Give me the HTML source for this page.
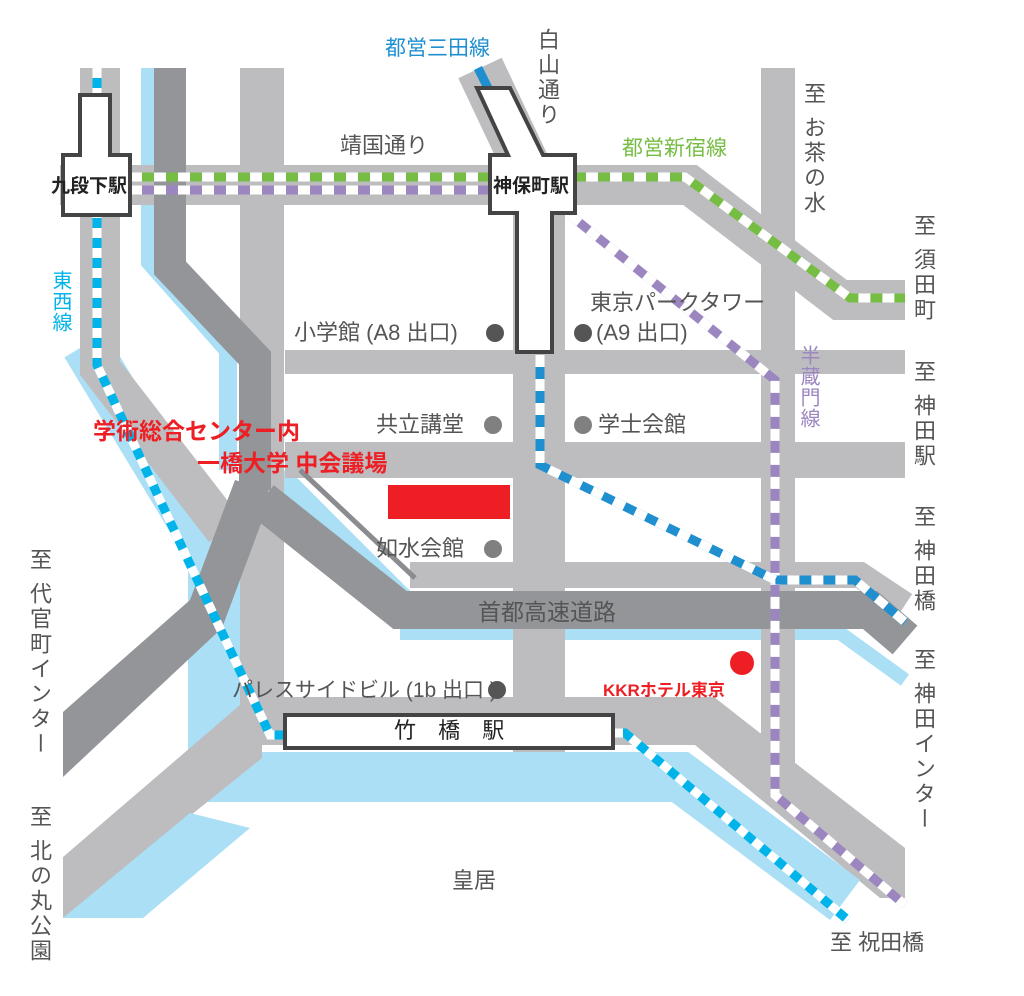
<!DOCTYPE html>
<html><head><meta charset="utf-8"><style>
body{margin:0;background:#fff;}
#w{position:relative;width:1024px;height:996px;overflow:hidden;font-family:"Liberation Sans","Noto Sans CJK JP",sans-serif;}
.t{position:absolute;color:#555;font-size:22px;line-height:1;white-space:nowrap;}
.v{writing-mode:vertical-rl;letter-spacing:3px;}
</style></head><body><div id="w">
<svg width="1024" height="996" style="position:absolute;left:0;top:0">
<g fill="none" stroke-linejoin="miter">
<!-- water -->
<g stroke="#aadff5">
<polyline points="150,68 150,262 228,350 228,470" stroke-width="18"/>
<polyline points="85,345 212,555 212,760" stroke-width="48"/>
<polyline points="280,475 410,605" stroke-width="20"/>
<polyline points="400,633 840,633 905,680" stroke-width="14"/>
</g>
<!-- light roads -->
<g stroke="#bdbdbf">
<polyline points="100,68 100,368 225,530" stroke-width="40"/>
<polyline points="262,68 262,720" stroke-width="44"/>
<polyline points="60,185 690,185 840,300 905,300" stroke-width="40"/>
<polyline points="480,68 540,195" stroke-width="48"/>
<line x1="285" y1="362" x2="905" y2="362" stroke-width="24"/>
<line x1="285" y1="460" x2="905" y2="460" stroke-width="36"/>
<polyline points="410,575 860,575 905,605" stroke-width="26"/>
<line x1="539" y1="200" x2="539" y2="760" stroke-width="52"/>
<line x1="778" y1="68" x2="778" y2="790" stroke-width="34"/>
<line x1="230" y1="721" x2="620" y2="721" stroke-width="48"/>
</g>
<polygon points="614,697 714,697 760,733 794,733 794,762 905,848 905,898 880,898 695,745 614,745" fill="#bdbdbf"/>
<!-- bottom water -->
<polyline points="205,777 680,777 845,900" stroke="#aadff5" stroke-width="50"/>
<polygon points="188,580 240,580 240,760 188,760" fill="#aadff5"/>
<!-- bottom-left road -->
<polygon points="63,857 240,705 262,705 262,758 63,918" fill="#bdbdbf"/>
<polygon points="190,813 250,828 143,918 63,918" fill="#aadff5"/>
<!-- expressway -->
<g stroke="#939598">
<polyline points="170,68 170,268 255,358 255,490" stroke-width="32"/>
<polyline points="262,500 400,610 870,610 905,640" stroke-width="38"/>
</g>
<polygon points="63,712 190,600 235,480 268,490 268,505 222,628 63,777" fill="#939598"/>
<line x1="300" y1="470" x2="415" y2="578" stroke="#8a8c8f" stroke-width="5"/>
<!-- lines -->
<g stroke-width="9">
<polyline points="97,68 97,365 195,575 270,735 288,735" stroke="#00b4ea"/>
<polyline points="97,68 97,365 195,575 270,735 288,735" stroke="#fff" stroke-dasharray="10,10"/>
<polyline points="613,733 625,733 848,920" stroke="#00b4ea"/>
<polyline points="613,733 625,733 848,920" stroke="#fff" stroke-dasharray="10,10"/>
<polyline points="130,177 685,177 850,298 905,298" stroke="#76bd43"/>
<polyline points="130,177 685,177 850,298 905,298" stroke="#fff" stroke-dasharray="12,12"/>
<polyline points="130,190 490,190" stroke="#9b86c0"/>
<polyline points="130,190 490,190" stroke="#fff" stroke-dasharray="12,12"/>
<polyline points="570,215 775,380 775,795 905,905" stroke="#9b86c0"/>
<polyline points="570,215 775,380 775,795 905,905" stroke="#fff" stroke-dasharray="12,12"/>
<polyline points="478,68 488,88" stroke="#1f8fd0"/>
<polyline points="540,355 540,465 775,580 855,580 905,622" stroke="#1f8fd0"/>
<polyline points="540,355 540,465 775,580 855,580 905,622" stroke="#fff" stroke-dasharray="12,12"/>
</g>
</g>
<!-- stations -->
<g fill="#fff" stroke="#444" stroke-width="4">
<polygon points="80,95 110,95 110,155 130,155 130,215 63,215 63,155 80,155"/>
<polygon points="477,88 510,88 543,155 575,155 575,213 552,213 552,352 517,352 517,213 490,213 490,155 508,155"/>
<rect x="285" y="715" width="328" height="33"/>
</g>
<rect x="388" y="485" width="122" height="34" fill="#ee1f24"/>
<g fill="#555"><circle cx="495" cy="333" r="9"/><circle cx="583" cy="333" r="9"/></g>
<g fill="#808080"><circle cx="493" cy="425" r="9"/><circle cx="583" cy="425" r="9"/><circle cx="493" cy="549" r="9"/></g>
<circle cx="497" cy="690" r="9" fill="#555"/>
<circle cx="742" cy="663" r="12" fill="#ee1f24"/>
</svg>
<div class="t" style="left:51px;top:177px;color:#222;font-size:19px;font-weight:bold">九段下駅</div>
<div class="t" style="left:493px;top:177px;color:#222;font-size:19px;font-weight:bold">神保町駅</div>
<div class="t" style="left:394px;top:720px;color:#222;font-size:22px;letter-spacing:8px">竹 橋 駅</div>
<div class="t" style="left:385px;top:38px;color:#1f8fd0;font-size:21px">都営三田線</div>
<div class="t v" style="left:536px;top:28px">白山通り</div>
<div class="t" style="left:340px;top:135px">靖国通り</div>
<div class="t" style="left:622px;top:138px;color:#76bd43;font-size:21px">都営新宿線</div>
<div class="t v" style="left:802px;top:82px">至 お茶の水</div>
<div class="t v" style="left:912px;top:214px">至 須田町</div>
<div class="t v" style="left:912px;top:360px">至 神田駅</div>
<div class="t v" style="left:912px;top:505px">至 神田橋</div>
<div class="t v" style="left:912px;top:648px">至 神田インター</div>
<div class="t v" style="left:798px;top:345px;color:#9b86c0;font-size:20px;letter-spacing:1px">半蔵門線</div>
<div class="t v" style="left:50px;top:270px;color:#00b4ea;font-size:20px;letter-spacing:1px">東西線</div>
<div class="t" style="left:590px;top:292px">東京パークタワー</div>
<div class="t" style="left:294px;top:322px">小学館 (A8 出口)</div>
<div class="t" style="left:596px;top:322px">(A9 出口)</div>
<div class="t" style="left:376px;top:414px">共立講堂</div>
<div class="t" style="left:598px;top:414px">学士会館</div>
<div class="t" style="left:376px;top:538px">如水会館</div>
<div class="t" style="left:232px;top:680px;font-size:21px">パレスサイドビル (1b 出口 )</div>
<div class="t" style="left:478px;top:601px;font-size:23px">首都高速道路</div>
<div class="t" style="left:93px;top:420px;color:#ee1f24;font-size:23px;font-weight:bold">学術総合センター内</div>
<div class="t" style="left:197px;top:452px;color:#ee1f24;font-size:23px;font-weight:bold">一橋大学 中会議場</div>
<div class="t" style="left:603px;top:682px;color:#ee1f24;font-size:17px;font-weight:bold">KKRホテル東京</div>
<div class="t v" style="left:28px;top:548px">至 代官町インター</div>
<div class="t v" style="left:28px;top:805px">至 北の丸公園</div>
<div class="t" style="left:452px;top:870px">皇居</div>
<div class="t" style="left:830px;top:932px">至 祝田橋</div>
</div></body></html>
